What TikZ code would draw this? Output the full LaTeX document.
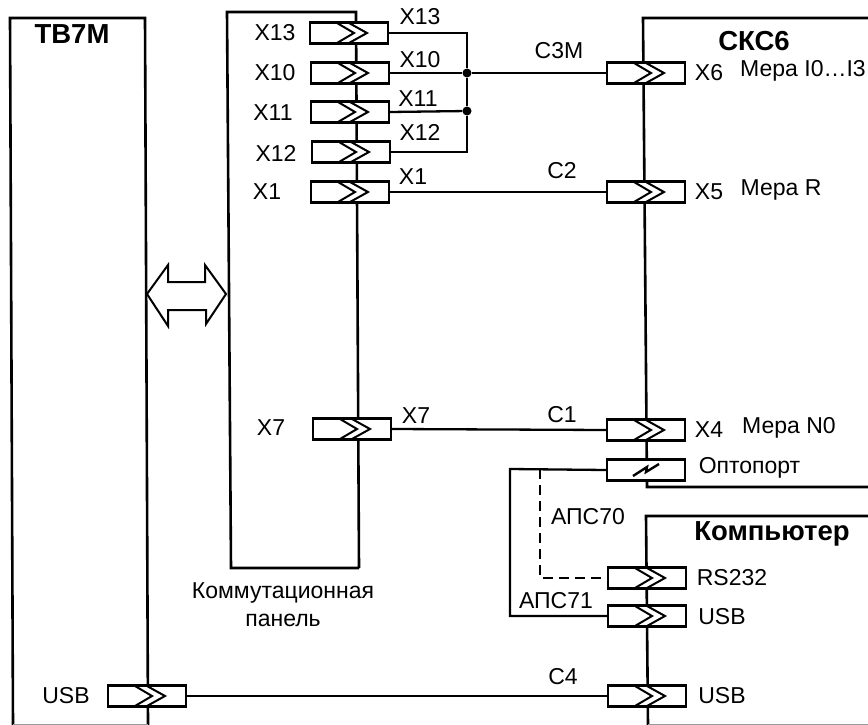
\documentclass[tikz,border=0pt]{standalone}
\usepackage{fontspec}
\setmainfont{Liberation Sans}
\usepackage{tikz}
\tikzset{
  panelline/.style={line width=2.6pt},
  wire/.style={line width=2.3pt},
  lbl/.style={inner sep=0pt, font=\fontsize{23}{26}\selectfont},
  title/.style={inner sep=0pt, font=\fontsize{27.5}{30}\selectfont\bfseries},
  socket/.style={rectangle, draw, line width=2.4pt, fill=white, minimum width=78pt, minimum height=21pt, inner sep=0pt},
  plug/.style={socket, path picture={
      \draw[line width=2pt, shift={(path picture bounding box.center)}]
        (-12,-10) -- (5,0) -- (-12,10) (0,-10) -- (18,0) -- (0,10);}},
  opto/.style={socket, path picture={
      \draw[line width=2.4pt, shift={(path picture bounding box.center)}]
        (-13,6) -- (1,-3) -- (0,2) -- (13,-6);}},
  joint/.style={circle, fill, inner sep=0pt, minimum size=9pt},
}
\begin{document}
\begin{tikzpicture}[x=1pt,y=-1pt]
  \useasboundingbox (0,0) rectangle (868,725);

  % units
  \draw[panelline] (13,725) -- (10,18) -- (145,18) -- (148,725);
  \draw[panelline] (359,568) -- (231,568) -- (227,12) -- (356,12) -- (359,568);
  \draw[panelline] (868,18) -- (643,18) -- (647,487) -- (868,487);
  \draw[panelline] (868,516) -- (646,516) -- (648,725);
  \draw[line width=0.8pt, black!40] (13,724.5) -- (148,724.5);
  \draw[line width=0.8pt, black!40] (648,724.5) -- (868,724.5);

  % bus between the units
  \draw[line width=2pt, miter limit=4] (147,294) -- (168,265) -- (168,282) -- (205,282) -- (205,265)
    -- (226,294) -- (206,324) -- (206,310) -- (168,310) -- (168,326) -- cycle;

  % panel sockets
  \node[plug] (x13) at (349,33) {};
  \node[plug] (x10) at (350,73) {};
  \node[plug] (x11) at (350,112) {};
  \node[plug] (x12) at (351,152) {};
  \node[plug] (x1) at (350,192) {};
  \node[plug] (x7) at (352,429) {};

  % device sockets
  \node[plug] (x6) at (646,73) {};
  \node[plug] (x5) at (646,192) {};
  \node[plug] (x4) at (646,430) {};
  \node[opto] (optoport) at (646,470) {};
  \node[plug] (rs232) at (647,578) {};
  \node[plug] (pcusb) at (647,616) {};
  \node[plug] (sksusb) at (647,696) {};
  \node[plug] (tvusb) at (147,696) {};

  % wires
  \node[joint] (j10) at (467,73) {};
  \node[joint] (j11) at (467,111) {};
  \coordinate (apc71) at (510,469);
  \coordinate (apc70) at (540,469);
  \draw[wire] (x13.east) -| (j10);
  \draw[wire] (x10.east) -- (j10) -- (x6.west);
  \draw[wire] (x11.east) -- (j11);
  \draw[wire] (x12.east) -| (j11);
  \draw[wire] (j10) -- (j11);
  \draw[wire] (x1.east) -- (x5.west);
  \draw[wire] (x7.east) -- (x4.west);
  \draw[wire, line width=2.8pt] (tvusb.east) -- (sksusb.west);
  \draw[wire] (optoport.west) -- (apc71) |- (pcusb.west);
  \draw[wire, line width=2.8pt, dash pattern=on 10pt off 6pt] (apc70) |- (rs232.west);

  % labels
  \node[title] (tb7m) at (72,34) {ТВ7М};
  \node[title] (sks6) at (754,41) {СКС6};
  \node[title] (pc) at (772,534) {Компьютер};
  \node[lbl] (l13) at (275,33) {X13};
  \node[lbl] (l10) at (275,73) {X10};
  \node[lbl] (l11) at (273,113) {X11};
  \node[lbl] (l12) at (276,153) {X12};
  \node[lbl] (l1) at (267,192) {X1};
  \node[lbl] (l7) at (271,428) {X7};
  \node[lbl] (w13) at (420,17) {X13};
  \node[lbl] (w10) at (420,60) {X10};
  \node[lbl] (w11) at (418,99) {X11};
  \node[lbl] (w12) at (420,132) {X12};
  \node[lbl] (w1) at (413,177) {X1};
  \node[lbl] (w7) at (416,416) {X7};
  \node[lbl] (c3m) at (559,51) {С3М};
  \node[lbl] (c2) at (562,171) {С2};
  \node[lbl] (c1) at (562,415) {С1};
  \node[lbl] (c4) at (563,677) {С4};
  \node[lbl] (p6) at (709,73) {X6};
  \node[lbl] (m6) at (803,71) {Мера I0…I3};
  \node[lbl] (p5) at (709,192) {X5};
  \node[lbl] (m5) at (781,190) {Мера R};
  \node[lbl] (p4) at (709,430) {X4};
  \node[lbl] (m4) at (789,428) {Мера N0};
  \node[lbl] (ol) at (749.5,468) {Оптопорт};
  \node[lbl] (rsl) at (732,578) {RS232};
  \node[lbl] (ul1) at (722,617) {USB};
  \node[lbl] (ul2) at (722,696) {USB};
  \node[lbl] (ul3) at (66,696) {USB};
  \node[lbl] (a70) at (588,517) {АПС70};
  \node[lbl] (a71) at (556,601) {АПС71};
  \node[lbl] (k1) at (283,593) {Коммутационная};
  \node[lbl] (k2) at (283,620) {панель};
\end{tikzpicture}
\end{document}
